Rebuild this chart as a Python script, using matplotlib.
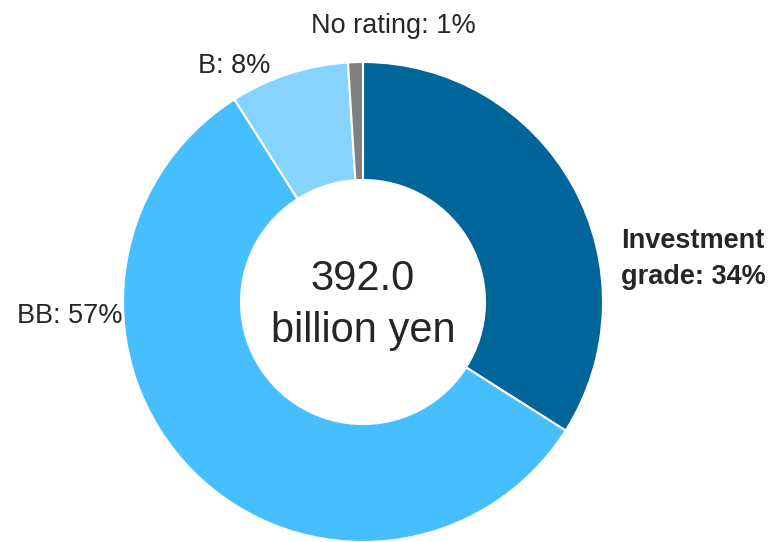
import matplotlib
matplotlib.use("Agg")
import matplotlib.pyplot as plt

# rating mix of the portfolio (% of total)
categories = ["Investment grade", "BB", "B", "No rating"]
shares = [34, 57, 8, 1]
total_label = ["392.0", "billion yen"]

COLORS = ["#006699", "#47BFFF", "#87D3FF", "#808080"]
INK = "#262626"
W, H = 771, 542

plt.rcParams["font.family"] = ["Liberation Sans", "DejaVu Sans"]

fig = plt.figure(figsize=(W / 100, H / 100), dpi=100)
ax = fig.add_axes([0, 0, 1, 1])

cx, cy, r_out, r_in = 363, H - 302, 240, 122
ax.pie(shares, colors=COLORS, startangle=90, counterclock=False,
       center=(cx, cy), radius=r_out, frame=True,
       wedgeprops=dict(width=r_out - r_in, edgecolor="white", linewidth=1.5))
ax.set_xlim(0, W)
ax.set_ylim(0, H)
ax.set_aspect("equal")
ax.axis("off")


def label(x, y, s, ha="center", bold=False, fs=19.5):
    ax.text(x, H - y, s, ha=ha, va="baseline", fontsize=fs, color=INK,
            fontweight=("bold" if bold else "normal"))


label(393, 33, f"{categories[3]}: {shares[3]}%")
label(234, 73, f"{categories[2]}: {shares[2]}%")
label(17, 323, f"{categories[1]}: {shares[1]}%", ha="left")
label(621, 248, "Investment", ha="left", bold=True)
label(621, 284, f"grade: {shares[0]}%", ha="left", bold=True)

label(cx, 290, total_label[0], fs=30)
label(cx, 342, total_label[1], fs=30)

fig.savefig("out.png", dpi=100)
